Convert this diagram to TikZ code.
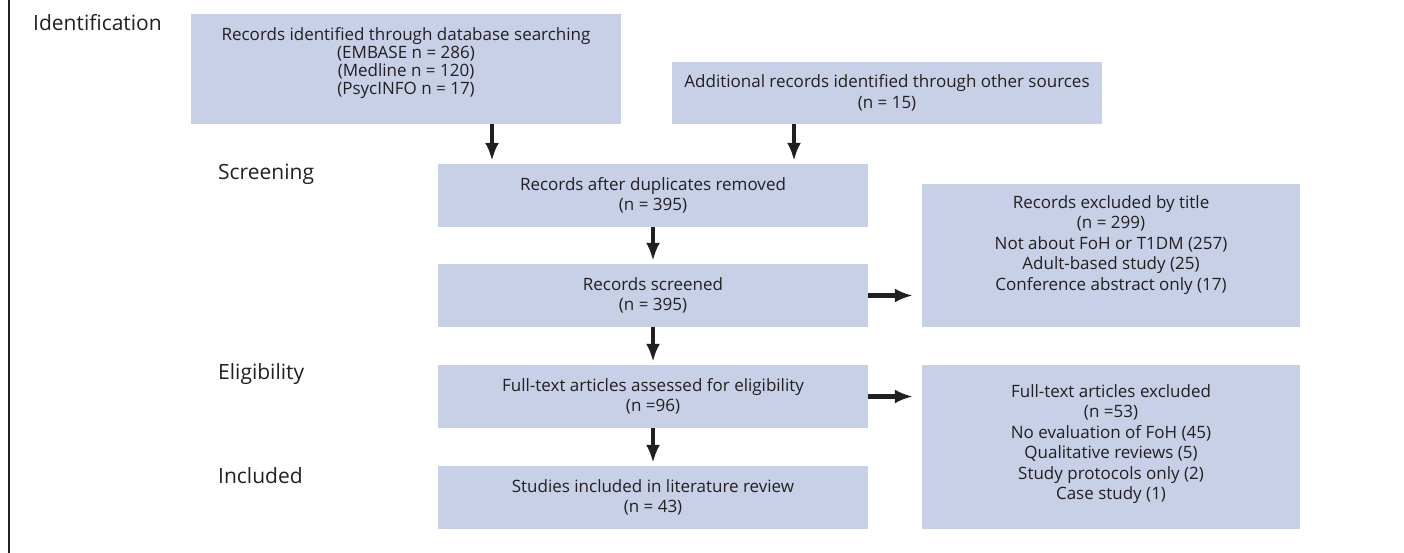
\documentclass[tikz,border=0pt]{standalone}
\usepackage{fontspec}
\setmainfont{Open Sans}
\usetikzlibrary{arrows.meta}
\definecolor{boxfill}{RGB}{200,208,232}
\definecolor{ink}{RGB}{35,31,32}
\begin{document}
\begin{tikzpicture}[x=1pt,y=-1pt,
  box/.style={fill=boxfill, draw=none, inner sep=0pt, align=center, text=ink,
    font=\fontsize{17}{20.5}\selectfont},
  boxtext/.style={inner sep=0pt, align=center, text=ink, font=\fontsize{17}{20.5}\selectfont},
  stage/.style={anchor=west, inner sep=0pt, text=ink, font=\fontsize{21}{25}\selectfont},
  arr/.style={line width=4.5pt, draw=ink, -{Latex[length=18pt,width=14pt]}, shorten >=3pt}]
\useasboundingbox (0,0) rectangle (1404,553);
\draw[line width=1.5pt, draw=ink] (9,0) -- (9,553);

% stage labels
\node[stage] (sid) at (33,23) {Identification};
\node[stage] (ssc) at (218,174) {Screening};
\node[stage] (sel) at (218,374) {Eligibility};
\node[stage] (sin) at (218,476) {Included};

% boxes
\node[box, minimum width=430pt, minimum height=110pt] (b1) at (406,69) {};
\node[boxtext, font=\fontsize{17}{18}\selectfont] (t1) at (406,63) {Records identified through database searching\\(EMBASE n = 286)\\(Medline n = 120)\\(PsycINFO n = 17)};
\node[box, minimum width=430pt, minimum height=62pt] (b2) at (887,93) {Additional records identified through other sources\\(n = 15)};
\node[box, minimum width=430pt, minimum height=63pt] (b3) at (653,195.5) {Records after duplicates removed\\(n = 395)};
\node[box, minimum width=430pt, minimum height=63pt] (b4) at (653,295.5) {Records screened\\(n = 395)};
\node[box, minimum width=378pt, minimum height=143pt] (b5) at (1111,255.5) {};
\node[boxtext] (t5) at (1111,245) {Records excluded by title\\(n = 299)\\Not about FoH or T1DM (257)\\Adult-based study (25)\\Conference abstract only (17)};
\node[box, minimum width=430pt, minimum height=63pt] (b6) at (653,396.5) {Full-text articles assessed for eligibility\\(n =96)};
\node[box, minimum width=378pt, minimum height=164pt] (b7) at (1111,447) {};
\node[boxtext] (t7) at (1111,444) {Full-text articles excluded\\(n =53)\\No evaluation of FoH (45)\\Qualitative reviews (5)\\Study protocols only (2)\\Case study (1)};
\node[box, minimum width=430pt, minimum height=63pt] (b8) at (653,497.5) {Studies included in literature review\\(n = 43)};

% arrows
\coordinate (c1) at (492,0);
\coordinate (c2) at (794,0);
\draw[arr] (c1 |- b1.south) -- (c1 |- b3.north);
\draw[arr] (c2 |- b2.south) -- (c2 |- b3.north);
\draw[arr] (b3.south) -- (b4.north);
\draw[arr] (b4.south) -- (b6.north);
\draw[arr] (b6.south) -- (b8.north);
\draw[arr, shorten >=9pt] (b4.east) -- (b5.west |- b4.east);
\draw[arr, shorten >=9pt] (b6.east) -- (b7.west |- b6.east);
\end{tikzpicture}
\end{document}
